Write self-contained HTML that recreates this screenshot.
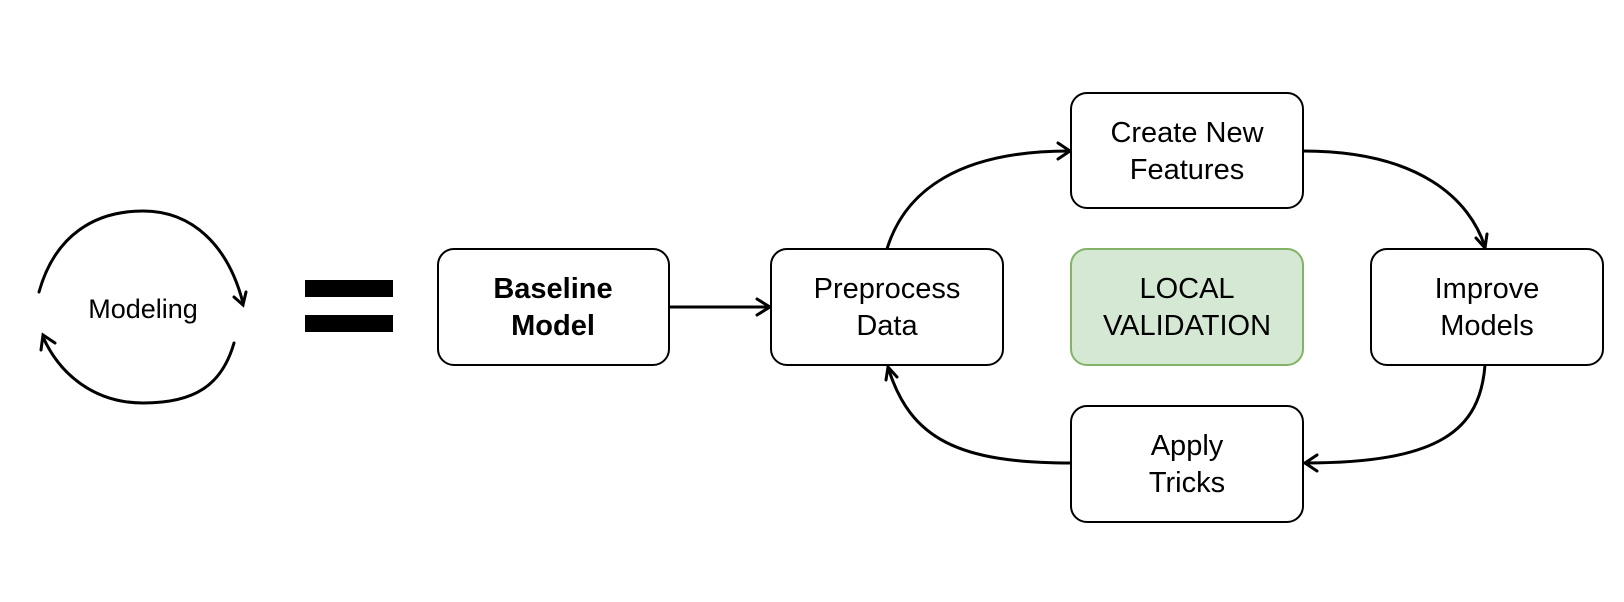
<!DOCTYPE html>
<html><head><meta charset="utf-8"><style>
body{margin:0;background:#fff;}
svg{display:block;font-family:"Liberation Sans",Arial,Helvetica,sans-serif;}
</style></head><body>
<svg width="1624" height="602" viewBox="0 0 1624 602" xmlns="http://www.w3.org/2000/svg">
<g fill="none" stroke="#000" stroke-width="3" stroke-linecap="round">
<path d="M39 292 C55 235 95 211 143 211 C192 211 228 245 243 303"/>
<path d="M234 297 L243 305 L246 292"/>
<path d="M234 343 C222 385 195 403 143 403 C95 403 60 375 43 337"/>
<path d="M41 350 L43 335 L55 343"/>
<path d="M669 307 L769 307"/>
<path d="M757 299 L770 307 L757 315"/>
<path d="M887 249 C905 190 960 151 1069 151"/>
<path d="M1058 143 L1070 151 L1058 159"/>
<path d="M1303 151 C1420 151 1470 200 1485 247"/>
<path d="M1476 238 L1485 248 L1487 234"/>
<path d="M1485 365 C1480 430 1440 463 1305 463"/>
<path d="M1317 455 L1305 463 L1317 471"/>
<path d="M1071 463 C960 463 910 440 888 367"/>
<path d="M886 380 L888 367 L897 377"/>
</g>
<rect x="305" y="280" width="88" height="17" fill="#000"/>
<rect x="305" y="315" width="88" height="17" fill="#000"/>
<g stroke="#000" stroke-width="2" fill="#fff">
<rect x="438" y="249" width="231" height="116" rx="16"/>
<rect x="771" y="249" width="232" height="116" rx="16"/>
<rect x="1071" y="93" width="232" height="115" rx="16"/>
<rect x="1371" y="249" width="232" height="116" rx="16"/>
<rect x="1071" y="406" width="232" height="116" rx="16"/>
</g>
<rect x="1071" y="249" width="232" height="116" rx="16" fill="#d5e8d4" stroke="#82b366" stroke-width="2"/>
<g font-size="29" text-anchor="middle" fill="#000">
<text x="143" y="318" font-size="27">Modeling</text>
<text x="553" y="298" font-weight="bold">Baseline</text>
<text x="553" y="335" font-weight="bold">Model</text>
<text x="887" y="298">Preprocess</text>
<text x="887" y="335">Data</text>
<text x="1187" y="142">Create New</text>
<text x="1187" y="179">Features</text>
<text x="1187" y="298">LOCAL</text>
<text x="1187" y="335">VALIDATION</text>
<text x="1487" y="298">Improve</text>
<text x="1487" y="335">Models</text>
<text x="1187" y="455">Apply</text>
<text x="1187" y="492">Tricks</text>
</g>
</svg>
</body></html>
